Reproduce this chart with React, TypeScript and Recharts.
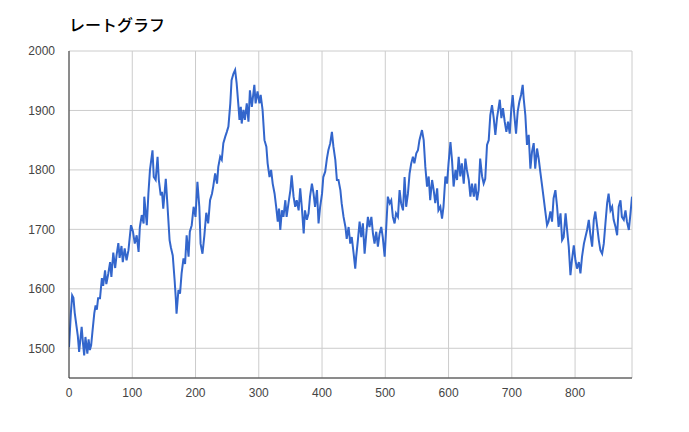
import React from 'react';
import { LineChart, Line, XAxis, YAxis, CartesianGrid } from 'recharts';

const games = [
  0, 3, 5, 7, 9, 12, 14, 16, 18, 20, 22, 24, 26, 29, 31, 33, 35, 37, 40, 42, 44, 46, 49, 52, 54, 57, 59, 62, 65, 67,
  70, 73, 75, 78, 80, 83, 85, 88, 91, 94, 98, 101, 104, 107, 110, 112, 115, 118, 119, 123, 125.5, 128, 132, 134, 137, 140, 142, 145, 147, 149,
  153, 155.5, 159, 161, 164, 167, 169, 170, 173, 175.5, 178, 181, 183.5, 186, 189, 191, 194, 197, 200, 203, 206, 208, 211, 214, 217, 220, 223, 226, 228, 231,
  234, 236, 239, 241.5, 244, 247, 249.5, 252, 255, 257, 260, 262.6, 265, 268, 269.5, 271.6, 273, 275.8, 278, 281, 283.7, 286, 289, 293, 295, 298, 301, 303, 306, 309,
  312, 314, 317, 319.5, 322, 325, 327.5, 330, 332, 334, 336.5, 339, 342, 344, 347, 350, 352, 355, 357.6, 360, 363, 365.5, 368, 371, 373, 376, 378.7, 381, 384, 386.6,
  389, 392, 394.5, 397, 400, 402, 405, 407.7, 410, 413, 415.6, 418, 421, 423.5, 426, 429, 431, 434, 437, 439, 442, 444.6, 447, 450, 452.5, 454, 456.7, 459.4, 462, 464.6,
  467.3, 470, 472.5, 475, 478, 480.5, 483, 485.7, 488.3, 491, 493.6, 496, 499, 501.5, 504, 507, 509.4, 512, 514.7, 517, 520, 522.6, 525, 528, 530.5, 533, 535.8, 538.4, 541, 543.7,
  546, 549, 551.6, 554, 558, 560.7, 563.3, 566, 568.6, 571, 574, 576.5, 579, 582, 584, 587, 589.7, 592, 595, 597.6, 600, 603, 605.5, 608, 611, 613.4, 616, 618.6, 621, 624,
  626.6, 629, 632, 634.5, 637, 640, 642.4, 645, 647.6, 650, 653, 655.5, 658, 660.8, 663.5, 666, 668.7, 671.4, 674, 676.6, 679, 681, 683.5, 686, 688.8, 691.4, 694, 696.7, 699.3, 701.4,
  704, 706.7, 709.3, 712, 714.6, 717.2, 718.8, 721.4, 724, 726.7, 729.4, 732, 734.6, 737, 739.9, 742.5, 745, 747.8, 750.4, 753, 755.7, 758, 761, 763.6, 766, 768.9, 771.6, 774, 777, 779.5,
  782, 785, 787.4, 790, 792.7, 795, 798, 800.6, 803, 806, 808.5, 811, 814, 816.4, 819, 821.7, 824, 827, 829.6, 832, 835, 837.5, 840, 842.8, 845.4, 848, 850.7, 853, 856, 858.6,
  861, 864, 866.5, 869, 871.8, 874, 877, 879.7, 882, 885, 887.6, 890,
];

const rates = [
  1502, 1560, 1589, 1585, 1560, 1536, 1520, 1494, 1515, 1536, 1510, 1488, 1519, 1491, 1515, 1497, 1505, 1527, 1559, 1572, 1565, 1584, 1584, 1618, 1605, 1631, 1608, 1625, 1645, 1620,
  1661, 1635, 1655, 1677, 1652, 1672, 1645, 1668, 1648, 1665, 1707, 1697, 1676, 1690, 1662, 1704, 1724, 1710, 1755, 1707, 1760, 1800, 1833, 1788, 1783, 1822, 1783, 1757, 1763, 1735,
  1785, 1743, 1682, 1670, 1656, 1614, 1581, 1558, 1598, 1592, 1626, 1651, 1642, 1690, 1654, 1696, 1707, 1738, 1721, 1780, 1738, 1676, 1659, 1690, 1728, 1710, 1749, 1760, 1772, 1794,
  1777, 1805, 1822, 1817, 1845, 1856, 1864, 1873, 1912, 1951, 1962, 1968, 1946, 1906, 1884, 1906, 1878, 1901, 1884, 1912, 1881, 1934, 1906, 1943, 1912, 1932, 1912, 1926, 1901, 1850,
  1839, 1811, 1788, 1800, 1777, 1760, 1738, 1713, 1735, 1699, 1732, 1721, 1749, 1721, 1744, 1766, 1791, 1755, 1738, 1749, 1732, 1769, 1738, 1693, 1732, 1716, 1727, 1755, 1777, 1760,
  1738, 1766, 1710, 1738, 1760, 1788, 1797, 1819, 1833, 1845, 1864, 1839, 1817, 1783, 1783, 1766, 1744, 1721, 1704, 1684, 1704, 1676, 1687, 1659, 1634, 1654, 1682, 1713, 1687, 1710,
  1659, 1693, 1721, 1704, 1721, 1693, 1676, 1696, 1671, 1693, 1704, 1687, 1654, 1704, 1755, 1744, 1749, 1721, 1710, 1727, 1721, 1766, 1744, 1732, 1788, 1738, 1760, 1794, 1811, 1822,
  1811, 1828, 1833, 1850, 1867, 1850, 1805, 1772, 1789, 1749, 1783, 1766, 1744, 1769, 1732, 1738, 1718, 1738, 1789, 1777, 1811, 1847, 1816, 1772, 1800, 1783, 1822, 1789, 1811, 1777,
  1819, 1800, 1783, 1755, 1777, 1755, 1777, 1749, 1766, 1819, 1789, 1777, 1785, 1842, 1850, 1892, 1909, 1887, 1859, 1887, 1904, 1918, 1887, 1904, 1881, 1864, 1881, 1861, 1904, 1926,
  1892, 1861, 1898, 1915, 1926, 1943, 1920, 1892, 1842, 1859, 1802, 1831, 1845, 1802, 1836, 1819, 1797, 1774, 1752, 1730, 1707, 1713, 1730, 1713, 1752, 1766, 1738, 1704, 1727, 1682,
  1687, 1727, 1699, 1671, 1623, 1648, 1673, 1648, 1634, 1645, 1626, 1654, 1676, 1687, 1699, 1716, 1693, 1671, 1716, 1730, 1704, 1682, 1665, 1659, 1676, 1710, 1744, 1760, 1732, 1738,
  1716, 1704, 1690, 1738, 1749, 1721, 1716, 1732, 1713, 1699, 1727, 1755,
];

const xTicks = [0, 100, 200, 300, 400, 500, 600, 700, 800];
const yTicks = [1500, 1600, 1700, 1800, 1900, 2000];
const chartTitle = 'レートグラフ';

const data = games.map((g, i) => ({ game: g, rate: rates[i] }));

const font = "Arial, 'Liberation Sans', 'Noto Sans CJK JP', sans-serif";

export default function App() {
  return (
    <div style={{ position: 'relative', width: 689, height: 432, margin: -8, fontFamily: font }}>
      <div
        style={{
          position: 'absolute',
          left: 69,
          top: 15,
          fontSize: 16,
          lineHeight: '18px',
          color: '#000',
          fontFamily: "'Noto Sans CJK JP', sans-serif",
          fontWeight: 500,
        }}
      >
        {chartTitle}
      </div>
      <LineChart width={689} height={432} data={data} margin={{ top: 51, right: 57, bottom: 24, left: 0 }}>
        <CartesianGrid stroke="#cccccc" />
        <XAxis
          dataKey="game"
          type="number"
          domain={[0, 890]}
          ticks={xTicks}
          allowDataOverflow
          tickLine={false}
          axisLine={{ stroke: '#333333' }}
          tick={{ fill: '#444444', fontSize: 12, fontFamily: font }}
          tickMargin={4}
          height={30}
        />
        <YAxis
          type="number"
          domain={[1450, 2000]}
          ticks={yTicks}
          allowDataOverflow
          tickLine={false}
          axisLine={{ stroke: '#333333' }}
          tick={{ fill: '#444444', fontSize: 12, fontFamily: font }}
          tickMargin={8}
          width={69}
        />
        <Line
          dataKey="rate"
          type="linear"
          stroke="#3366cc"
          strokeWidth={2}
          dot={false}
          isAnimationActive={false}
        />
      </LineChart>
    </div>
  );
}
